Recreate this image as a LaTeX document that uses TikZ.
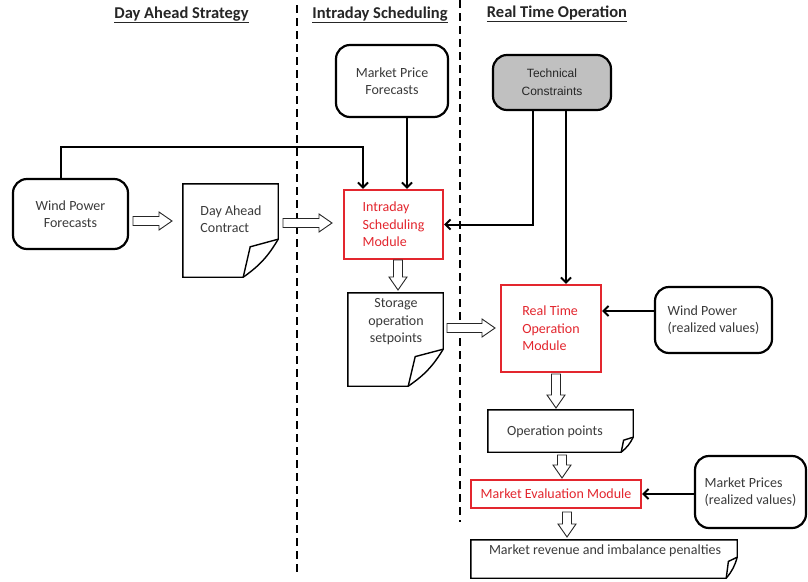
\documentclass[tikz,border=0pt]{standalone}
\usepackage{fontspec}
\setmainfont{Carlito}
\newfontfamily\arialf{Liberation Sans}
\usetikzlibrary{calc,arrows.meta}
\definecolor{txtgray}{HTML}{3A3A3A}
\definecolor{modred}{HTML}{E3262E}
\definecolor{techgray}{HTML}{C0C0C0}
\newcommand{\docoutline}[3]{%
  \draw[docline] (#1.south west) -- (#1.north west) -- (#1.north east)
    -- ([yshift=#2]#1.south east) to[bend left=12] ([xshift=-#3]#1.south east) -- cycle;
  \draw[docline] ([yshift=#2]#1.south east) -- ([xshift={-0.8*#3},yshift={0.8*#2}]#1.south east)
    -- ([xshift=-#3]#1.south east);}
\begin{document}
\begin{tikzpicture}[x=1pt,y=-1pt,
  basefont/.style={font=\fontsize{14}{17.5}\selectfont},
  rbox/.style={draw=black, line width=2.2pt, rounded corners=14pt, align=center,
    text=txtgray, basefont, inner sep=0pt},
  modbox/.style={draw=modred, line width=2.2pt, text=modred, basefont, inner sep=0pt},
  docbox/.style={draw=none, inner sep=0pt},
  docline/.style={draw=black, line width=1.4pt, line join=miter},
  txt/.style={text=txtgray, basefont, inner sep=0pt},
  title/.style={text=black!85, font=\fontsize{16.5}{18}\selectfont\bfseries, inner sep=0pt},
  sep/.style={draw=black, line width=1.6pt, dash pattern=on 8pt off 5pt},
  conn/.style={draw=black, line width=2pt, -{Straight Barb[length=5pt,width=10pt,line width=2pt]}},
  hollowarr/.style={draw=black!85, line width=0.9pt, fill=white, line join=miter, to path={
    let \p1=(\tikztostart), \p2=(\tikztotarget),
        \n1={veclen(\x2-\x1,\y2-\y1)},
        \n2={(\x2-\x1)/\n1}, \n3={(\y2-\y1)/\n1}
    in
    ({\x1-4.5*\n3},{\y1+4.5*\n2}) --
    ({\x2-13*\n2-4.5*\n3},{\y2-13*\n3+4.5*\n2}) --
    ({\x2-13*\n2-9*\n3},{\y2-13*\n3+9*\n2}) --
    (\x2,\y2) --
    ({\x2-13*\n2+9*\n3},{\y2-13*\n3-9*\n2}) --
    ({\x2-13*\n2+4.5*\n3},{\y2-13*\n3-4.5*\n2}) --
    ({\x1+4.5*\n3},{\y1-4.5*\n2}) -- cycle}}
]
\useasboundingbox[fill=white] (0,0) rectangle (808,581);

% titles
\node[title] (t1) at (181.5,15) {\underline{Day Ahead Strategy}};
\node[title] (t2) at (380,15) {\underline{Intraday Scheduling}};
\node[title] (t3) at (557,14) {\underline{Real Time Operation}};

% separators
\coordinate (s1a) at (297,5);
\coordinate (s1b) at (297,576);
\coordinate (s2a) at (460,0);
\coordinate (s2b) at (460,522);
\draw[sep] (s1a) -- (s1b);
\draw[sep] (s2a) -- (s2b);

% boxes
\node[rbox, minimum width=115pt, minimum height=70pt] (wpf) at (70.5,214) {Wind Power\\Forecasts};
\node[rbox, minimum width=112pt, minimum height=72pt] (mpf) at (392,81) {Market Price\\Forecasts};
\node[rbox, fill=techgray, minimum width=118pt, minimum height=55pt, text=black!85,
  font=\arialf\fontsize{12}{18}\selectfont] (tc) at (552,82.5) {Technical\\Constraints};
\node[modbox, minimum width=99pt, minimum height=69pt, align=left] (ism) at (393.5,224.5)
  {Intraday\\Scheduling\\Module};
\node[modbox, minimum width=100pt, minimum height=87pt, align=left] (rto) at (551,328.5)
  {Real Time\\Operation\\Module};
\node[rbox, minimum width=117pt, minimum height=66pt, align=left] (wpr) at (713.5,320)
  {Wind Power\\(realized values)};
\node[modbox, minimum width=170pt, minimum height=28pt] (mem) at (556,494)
  {Market Evaluation Module};
\node[rbox, minimum width=111pt, minimum height=72pt, align=left] (mp) at (750.5,492)
  {Market Prices\\(realized values)};

% documents
\node[docbox, minimum width=95pt, minimum height=93pt] (dac) at (230.5,230.5) {};
\docoutline{dac}{38pt}{35pt}
\node[txt, align=left] (dact) at (231,219) {Day Ahead\\Contract};

\node[docbox, minimum width=95pt, minimum height=93pt] (sos) at (395.5,339.5) {};
\docoutline{sos}{37pt}{35pt}
\node[txt, align=center] (sost) at (396,322) {Storage\\operation\\setpoints};

\node[docbox, minimum width=145pt, minimum height=42pt] (op) at (560.5,431) {};
\docoutline{op}{15pt}{12pt}
\node[txt] (opt) at (555,432) {Operation points};

\node[docbox, minimum width=266pt, minimum height=38pt] (rev) at (604,559) {};
\docoutline{rev}{21pt}{11pt}
\node[txt] (revt) at (605,551) {Market revenue and imbalance penalties};

% connectors
\coordinate (c1) at ([xshift=-9.5pt]wpf.north |- 0,147);
\draw[conn] ([xshift=-9.5pt]wpf.north) -- (c1) -| ([xshift=-30.5pt]ism.north);
\draw[conn] ([xshift=15pt]mpf.south) -- ([xshift=15pt]mpf.south |- ism.north);
\draw[conn] ([xshift=-19pt]tc.south) |- (ism.east);
\draw[conn] ([xshift=14pt]tc.south) -- ([xshift=14pt]tc.south |- rto.north);
\draw[conn] ([yshift=9pt]wpr.west) -- ([yshift=9pt]wpr.west -| rto.east);
\draw[conn] (mp.west |- mem.east) -- (mem.east);

% hollow block arrows
\coordinate (h1a) at (133,221);  \coordinate (h1b) at (172,221);
\coordinate (h2a) at (283,223);  \coordinate (h2b) at (332,223);
\coordinate (h3a) at (398,260);  \coordinate (h3b) at (398,290);
\coordinate (h4a) at (447,328);  \coordinate (h4b) at (495,328);
\coordinate (h5a) at (556,374);  \coordinate (h5b) at (556,408);
\coordinate (h6a) at (562,455);  \coordinate (h6b) at (562,478);
\coordinate (h7a) at (567,512);  \coordinate (h7b) at (567,537);
\path[hollowarr] (h1a) to (h1b);
\path[hollowarr] (h2a) to (h2b);
\path[hollowarr] (h3a) to (h3b);
\path[hollowarr] (h4a) to (h4b);
\path[hollowarr] (h5a) to (h5b);
\path[hollowarr] (h6a) to (h6b);
\path[hollowarr] (h7a) to (h7b);
\end{tikzpicture}
\end{document}
